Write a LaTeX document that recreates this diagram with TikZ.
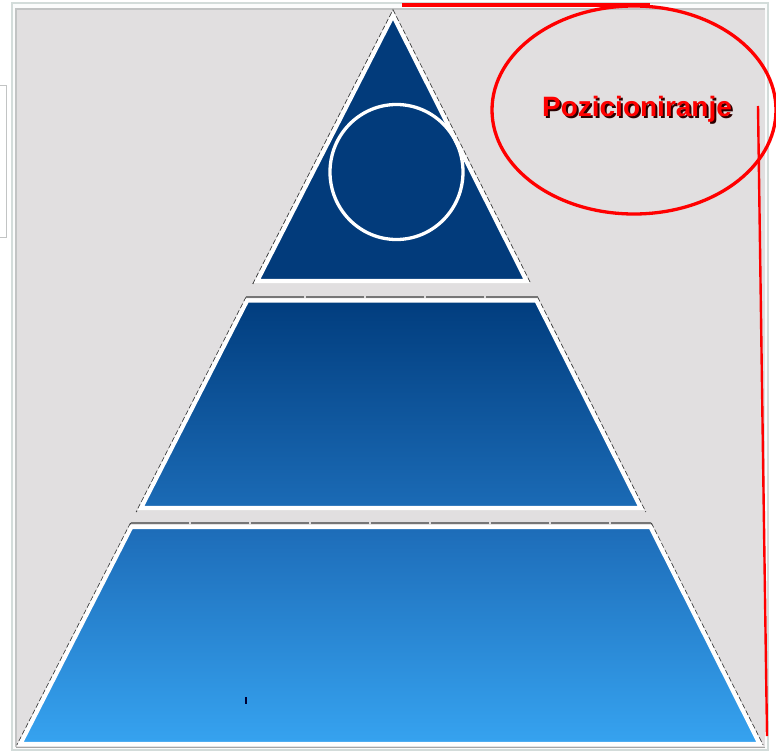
\documentclass[tikz,border=0pt]{standalone}
\usepackage{fontspec}
\setmainfont{Liberation Sans}
\definecolor{bgpanel}{HTML}{E1DFE0}
\definecolor{frameout}{HTML}{D3DCDA}
\definecolor{frameshadow}{HTML}{C2C4C4}
\definecolor{edgegray}{HTML}{3E3E3E}
\definecolor{topgray}{HTML}{767676}
\definecolor{tierone}{HTML}{023B7B}
\definecolor{tiertwotop}{HTML}{013D7E}
\definecolor{tiertwobot}{HTML}{1B6BB6}
\definecolor{tierthreetop}{HTML}{1D6CB8}
\definecolor{tierthreebot}{HTML}{36A3F0}
\definecolor{shadowred}{HTML}{2A0000}
\begin{document}
\begin{tikzpicture}[x=1pt,y=-1pt,
  whiteedge/.style={draw=white, line width=4.2pt, line join=miter},
  sideline/.style={draw=edgegray, line width=1pt, dash pattern=on 5pt off 2.5pt},
  topline/.style={draw=topgray, line width=2pt, dash pattern=on 58pt off 2pt},
  redline/.style={draw=red, line width=3.3pt}]
\useasboundingbox (0,0) rectangle (776,754);
\fill[white] (0,0) rectangle (776,754);
% left fragment box
\draw[draw=frameshadow, fill=white, line width=1pt] (-3,86) rectangle (6,237);
% frame
\draw[draw=frameout, fill=white!92!frameout, line width=1.4pt] (12,3) rectangle (768,750);
\fill[bgpanel] (16,9) rectangle (765,747);
\draw[frameshadow, line width=1.4pt] (16,747) -- (16,9) -- (765,9);
% dashed outlines
\draw[sideline] (252.8,284) -- (393,10) -- (530.9,284);
\draw[sideline] (246.2,297) -- (136.2,512);
\draw[sideline] (537.5,297) -- (645.7,512);
\draw[topline] (246.2,297) -- (537.5,297);
\draw[sideline] (130.6,523) -- (17,745);
\draw[sideline] (651.2,523) -- (763,745);
\draw[topline] (130.6,523) -- (651.2,523);
% tiers
\fill[tierone] (393,15.5) -- (257.2,281) -- (526.6,281) -- cycle;
\draw[whiteedge] (393,15.5) -- (257.2,281) -- (526.6,281) -- cycle;
\shade[top color=tiertwotop, bottom color=tiertwobot] (247.2,300.5) -- (536.4,300.5) -- (640.9,508) -- (141.0,508) -- cycle;
\draw[whiteedge] (247.2,300.5) -- (536.4,300.5) -- (640.9,508) -- (141.0,508) -- cycle;
\shade[top color=tierthreetop, bottom color=tierthreebot] (131.3,527) -- (650.5,527) -- (759.7,744) -- (20.3,744) -- cycle;
\draw[whiteedge] (131.3,527) -- (650.5,527) -- (759.7,744) -- (20.3,744) -- cycle;
\draw[draw=gray!70, line width=1.6pt] (16,747.5) -- (765,747.5);
% circle in top tier
\draw[white, line width=3.3pt] (396.5,172) ellipse [x radius=66.5, y radius=67.5];
% cursor tick
\draw[draw=black!80!blue, line width=1.6pt] (246,697) -- (246,704);
% red annotations
\draw[redline] (402,5) -- (650,5);
\draw[redline] (634,110) ellipse [x radius=142, y radius=104];
\draw[draw=red, line width=2.4pt] (758,106) -- (767,736);
\node[anchor=base, inner sep=0pt, font=\bfseries\fontsize{28}{30}\selectfont] (label) at (637,117)
  {\makebox[0pt][l]{\hspace{2pt}\raisebox{-2pt}{\textcolor{shadowred}{Pozicioniranje}}}\textcolor{red}{Pozicioniranje}};
\end{tikzpicture}
\end{document}
